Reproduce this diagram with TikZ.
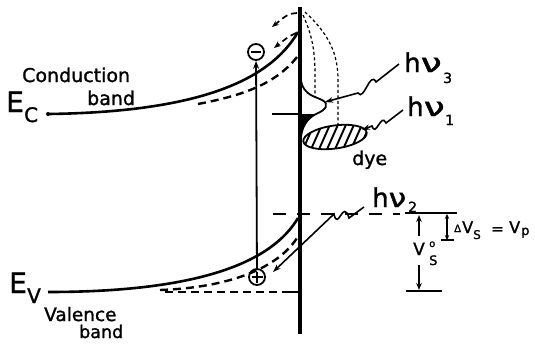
\documentclass[tikz,border=0pt]{standalone}
\usepackage{fontspec}
\usepackage{graphicx}
\setmainfont{DejaVu Sans}
\newfontfamily\lf{DejaVu Sans}[FakeBold=1.3]
\usetikzlibrary{arrows.meta}
\begin{document}
\begin{tikzpicture}[x=1pt,y=-1pt,
  band/.style={line width=2.6pt},
  bandd/.style={line width=2.4pt, dash pattern=on 8pt off 5pt},
  dotl/.style={line width=1.2pt, dash pattern=on 3pt off 2.5pt},
  tip/.style={-{Stealth[length=7pt,width=5.5pt]}},
  photon/.style={line width=1.6pt, -{Stealth[length=8pt,width=5.5pt]}},
  lbl/.style={inner sep=0pt, anchor=base west, font=\lf\fontsize{19}{20}\selectfont},
  big/.style={inner sep=0pt, anchor=base west, font=\lf\fontsize{28}{30}\selectfont},
  sub/.style={inner sep=0pt, anchor=base west, font=\lf\fontsize{20}{22}\selectfont},
  hnu/.style={inner sep=0pt, anchor=base west, font=\lf\fontsize{26}{28}\selectfont},
  hsub/.style={inner sep=0pt, anchor=base west, font=\lf\fontsize{14}{16}\selectfont},
  sm/.style={inner sep=0pt, anchor=base west},
  charge/.style={circle, draw, line width=1.8pt, minimum size=16pt, inner sep=0pt}]
\useasboundingbox (0,0) rectangle (535,343);

% interface
\draw[line width=4.5pt] (300,7) -- (300,334);

% conduction band
\draw[band] (48,114) .. controls (200,112) and (270,80) .. (298,32);
\fill (48,114) circle (2pt);
\draw[bandd] (198,104) .. controls (240,96) and (275,85) .. (297,57);
% valence band
\draw[band] (48,292) .. controls (200,292) and (272,262) .. (298,218);
\draw[bandd] (160,290) .. controls (220,288) and (275,272) .. (297,238);
\draw[bandd] (165,292) -- (290,292);
\draw[band] (288,292) -- (300,292);

% top dashed arrows
\draw[line width=1.7pt, dash pattern=on 6pt off 4pt, tip] (297,13) .. controls (288,14) .. (272,27);
\draw[line width=1.7pt, dash pattern=on 6pt off 4pt, tip] (296,33) .. controls (288,37) .. (274,48);

% dotted curves on the right
\draw[dotl] (303,15) .. controls (312,35) and (315,50) .. (315,75) -- (315,97);
\draw[dotl] (305,12) .. controls (330,35) and (338,55) .. (338,80) -- (338,126);

% surface state distribution (bump)
\fill (300,114) -- (316,114) .. controls (306,119) and (302,128) .. (301,137) -- (300,137) -- cycle;
\draw[line width=1.8pt] (300,70) .. controls (300,95) and (312,95) .. (322,100)
   .. controls (330,104) and (326,110) .. (316,114) .. controls (306,119) and (302,128) .. (301,137);
\draw[line width=1.6pt] (272,114) -- (300,114);

% dye ellipse
\begin{scope}
\clip[rotate around={8:(335,137)}] (335,137) ellipse [x radius=32, y radius=11.5];
\foreach \i in {276,284,...,380} \draw[line width=1.9pt] (\i,156) -- ++(17,-38);
\end{scope}
\draw[line width=1.8pt, rotate around={8:(335,137)}] (335,137) ellipse [x radius=32, y radius=11.5];

% electron / hole
\node[charge] (minus) at (256,52) {};
\draw[line width=2.6pt] (251,52) -- (261,52);
\node[charge] (plus) at (257,277) {};
\draw[line width=1.7pt] (251.5,277) -- (262.5,277) (257,271.5) -- (257,282.5);
\draw[line width=1.8pt, -{Stealth[length=8pt,width=6pt]}] (plus) -- (minus);

% photons
\draw[photon] (399,64) -- (376,82) .. controls (370,70) and (364,102) .. (358,93) -- (325,102);
\draw[photon] (403,110) -- (386,123) .. controls (381,112) and (376,138) .. (372,126) -- (362,130);
\draw[photon] (364,207) -- (349,218) .. controls (343,198) and (338,232) .. (334,214) -- (273,272);

% potential levels on the right
\draw[line width=1.7pt, dash pattern=on 13pt off 11pt] (273,214) -- (400,214);
\draw[line width=2.2pt] (405,213) -- (457,213);
\draw[line width=2.2pt] (406,291) -- (442,291);
\draw[line width=2pt, tip] (419,236) -- (419,215);
\draw[line width=2pt, tip] (419,265) -- (419,290);
\draw[line width=2pt, {Stealth[length=5pt,width=4.5pt]}-{Stealth[length=5pt,width=4.5pt]}] (447,214) -- (447,240);
\draw[line width=2pt] (441,240) -- (454,240);

% labels
\node[big] (Ec) at (6,112) {E};
\node[sub] (Ecs) at (24,122) {C};
\node[lbl] (cond) at (22,82) {Conduction};
\node[lbl] (cband) at (87,105) {band};
\node[big] (Ev) at (9,293) {E};
\node[sub] (Evs) at (27,303) {V};
\node[lbl, font=\lf\fontsize{18.5}{20}\selectfont] (val) at (44,321) {Valence};
\node[lbl, font=\lf\fontsize{17.5}{20}\selectfont] (vband) at (79,338) {band};
\node[lbl] (dye) at (352,165) {dye};

\node[hnu] (h3) at (404,72) {h\scalebox{1.45}[1]{ν}};
\node[hsub] (s3) at (443,83) {3};
\node[hnu] (h1) at (407,116) {h\scalebox{1.45}[1]{ν}};
\node[hsub] (s1) at (445,125) {1};
\node[hnu] (h2) at (372,207) {h\scalebox{1.2}[1]{ν}};
\node[hsub] (s2) at (408,212) {2};

\node[sm, font=\lf\fontsize{17}{20}\selectfont] (vs) at (413,255) {V};
\node[sm, font=\lf\fontsize{10}{12}\selectfont] (vso) at (429,247) {o};
\node[sm, font=\lf\fontsize{13}{16}\selectfont] (vss) at (429,265) {S};

\node[sm, font=\lf\fontsize{10}{12}\selectfont] (dl) at (454,232) {Δ};
\node[sm, font=\lf\fontsize{16}{16}\selectfont] (dv) at (462,233) {V};
\node[sm, font=\lf\fontsize{12}{12}\selectfont] (dvs) at (473,239) {S};
\node[sm, font=\lf\fontsize{15}{16}\selectfont] (eq) at (491,234) {=};
\node[sm, font=\lf\fontsize{16}{16}\selectfont] (vp) at (509,233) {V};
\node[sm, font=\lf\fontsize{13}{14}\selectfont] (vpp) at (521,235) {p};
\end{tikzpicture}
\end{document}
